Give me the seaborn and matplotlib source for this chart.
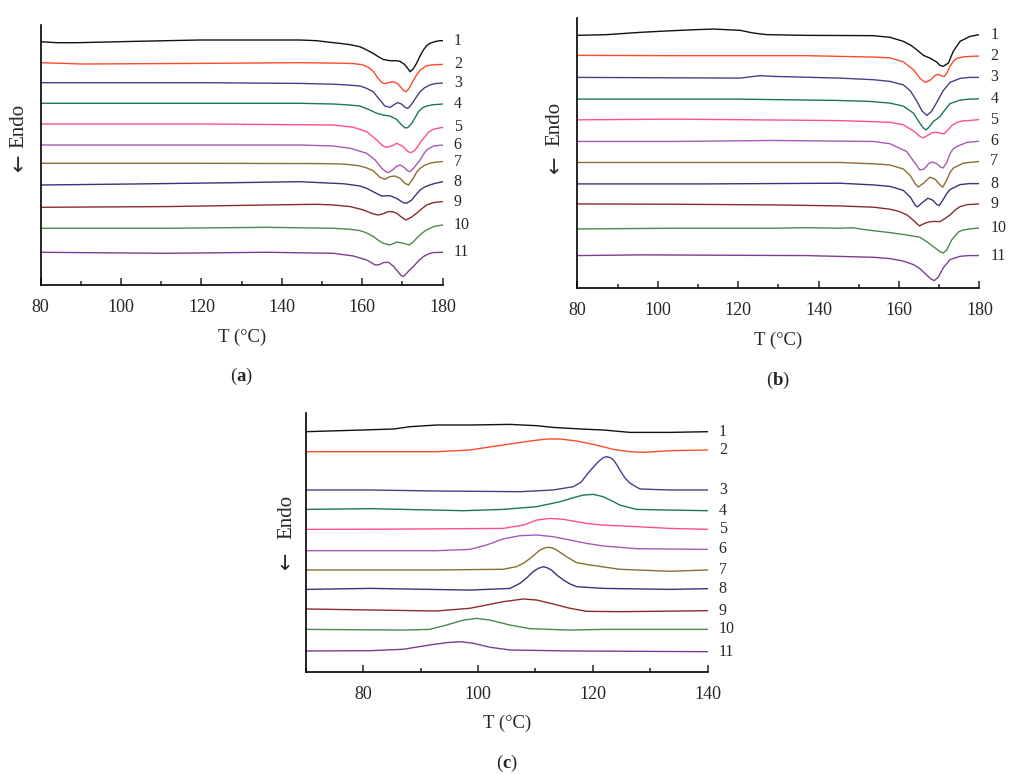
import numpy as np
import pandas as pd
import matplotlib
matplotlib.use("Agg")
import matplotlib.pyplot as plt
import seaborn as sns

# ---------------------------------------------------------
# DATA  (heat flow, arbitrary units,
#        relative to each curve's own baseline)
# ---------------------------------------------------------

curve_names = ["1", "2", "3", "4", "5", "6", "7", "8", "9", "10", "11"]
curve_colors = ["#111111", "#ff4a2a", "#46408c", "#1c7563", "#ff4f8f", "#a45ab4",
                "#8c6d2e", "#3e3278", "#8a2d2a", "#4a8a4a", "#7b3f8f"]

# panel (a): melting, first heating
a_base = [243.3, 222.3, 202.3, 181.7, 161.0, 140.0, 121.7, 100.0, 77.7, 56.7, 32.7]
a_temp = [
    [80, 84, 89, 103, 119.5, 144.5, 148.7, 152.8, 154.5, 157, 159.4, 161, 162.7, 164, 165.2, 166.9, 168.5,
     169.4, 170.3, 171, 171.9, 172.7, 173.5, 174.4, 175.2, 176, 176.8, 178, 179.3, 180],
    [80, 90.6, 119.6, 144.5, 155, 158, 160, 161.5, 162.8, 163.8, 164.8, 165.5, 166.5, 167.6, 168.6, 169.5,
     170.3, 170.9, 171.6, 172.5, 173.5, 174.5, 176, 178, 180],
    [80, 119.6, 144.5, 152.8, 157, 159.4, 161, 162.7, 164.4, 165.6, 166.9, 168.1, 168.8, 169.6, 170.6, 171.3,
     172, 172.7, 173.5, 174.4, 175.5, 176.8, 178, 180],
    [80, 119.6, 144.5, 152.8, 156, 159.4, 161.9, 163.6, 165.2, 166.9, 168.5, 169.8, 170.6, 171.3, 172.3,
     173.2, 174, 175, 176, 177.5, 180],
    [80, 119.6, 152.8, 157.8, 161.1, 163.6, 165.0, 165.9, 167.3, 168.6, 170.2, 171.2, 171.9, 172.7, 173.5,
     174.5, 175.6, 176.5, 177.7, 180],
    [80, 111.3, 144.5, 152.8, 157, 161.1, 163.2, 164.8, 165.8, 166.5, 167.5, 168.5, 169.4, 170.3, 171.2,
     171.9, 172.8, 173.6, 174.4, 175.2, 176, 177.7, 180],
    [80, 120, 150, 154.5, 157.5, 159.4, 161, 162.7, 164.4, 165.6, 166.9, 168.1, 169.4, 170.6, 171.5, 172.7,
     173.5, 174.4, 175.5, 176.8, 178, 180],
    [80, 103, 128, 144.5, 152.8, 155.5, 159.4, 161.2, 162.7, 164.8, 166.9, 168.5, 170.2, 171, 172.3, 173.3,
     174.4, 175.5, 176.8, 178, 180],
    [80, 111.3, 136.2, 148.7, 152.8, 157, 160.3, 162.8, 164, 165.2, 166.5, 167.6, 168.6, 169.8, 170.9, 172.2,
     173.5, 174.8, 176, 177.7, 180],
    [80, 111.3, 136.2, 152.8, 157, 159.4, 161, 162.8, 164, 165.2, 166.9, 168.6, 170.2, 171.7, 172.6, 173.5,
     174.8, 176, 177.7, 180],
    [80, 111.3, 136.2, 152.8, 157.8, 161.1, 163.2, 164.2, 165.2, 166.5, 167.7, 168.8, 169.6, 170.2, 170.8,
     171.7, 172.7, 174, 175.2, 176.5, 177.7, 180],
]
a_heat = [
    [0, -1, -1, 0.3, 1.7, 1.7, 1, -1, -1.7, -3, -5, -8, -11.7, -15, -17.7, -19, -19, -19.7, -22, -25, -30,
     -27, -21.7, -14, -8.3, -4, -1.7, 0, 1, 1],
    [0, -1.3, -0.7, 0, -0.5, -1, -2, -4.5, -9, -15, -19.5, -21, -20, -19, -20.5, -24, -28, -29, -26, -19,
     -12.3, -7, -3, -2, -1.7],
    [0, 0, -0.7, -1.5, -2.5, -3.3, -5.5, -9, -17.3, -23.3, -24.7, -21.5, -20, -21, -24.5, -25.7, -23, -19,
     -14, -9, -5, -2.3, -1, -0.3],
    [0, 0, 0, -0.7, -1.5, -2.7, -6.7, -10, -11.7, -12.7, -16, -21.7, -24.5, -24.5, -20, -14, -8.3, -4.5,
     -2.7, -1.5, -0.7],
    [0, 0, -1, -3.3, -7.7, -16, -21.5, -23.3, -22, -19.3, -22.7, -27, -28.7, -27.5, -24.3, -18, -12.7, -8,
     -5.3, -3.3],
    [0, 0, 0, -1, -3.3, -8.3, -15, -23, -26.5, -27.7, -25, -21.5, -20, -22, -25.5, -26.7, -23, -19, -15,
     -9.5, -5, -1, 0],
    [0, 0, -0.3, -0.7, -1.5, -2.7, -4.5, -7.3, -14, -16, -13.3, -12.7, -15, -20, -21.7, -15, -9, -5, -2, 0,
     1, 1.7],
    [0, 1, 2.3, 3.3, 1.7, 1.2, -1, -3.5, -6.7, -11, -10.7, -13.3, -17.7, -18.3, -15, -10, -5, -2, 0, 1.5,
     3.3],
    [0, 0.7, 2.3, 3, 2.3, 0.7, -2.7, -6.7, -7.7, -6.5, -4.3, -4.5, -6, -10, -12.7, -10, -6, -1.5, 2.3, 4.7,
     5.7],
    [0, 0, 1, 0, -1, -2.3, -4.5, -8.3, -12, -15, -16.7, -13.7, -15, -16.7, -14, -10, -5, -1.7, 1.7, 3.3],
    [0, -1, 0, -1, -3.7, -7.7, -12.7, -12.5, -10.3, -10, -13.7, -19, -23, -24.3, -22, -18, -14.3, -8.5,
     -4.3, -1.5, -0.3, 0],
]

# panel (b): melting, second heating
b_base = [252.7, 232.7, 210.7, 189.0, 168.3, 146.7, 125.7, 104.3, 84.3, 59.3, 32.7]
b_temp = [
    [80, 87.3, 95.6, 103.9, 109.7, 113.8, 120.5, 123.8, 127.1, 137, 153.6, 157.8, 161.1, 163, 164.4, 166.1,
     167.7, 169.4, 170.2, 171, 172.3, 173.5, 175.2, 177.7, 180],
    [80, 104, 137, 153.6, 157.8, 161.1, 163.6, 165.2, 166.5, 167.7, 169, 169.8, 170.6, 171.3, 172, 172.7,
     173.5, 174.4, 176, 177.7, 180],
    [80, 120.5, 122.5, 125.4, 128.8, 145.3, 153.6, 157.8, 161.1, 162.8, 164.4, 165.7, 166.9, 168.1, 169.4,
     171, 172.7, 175.2, 177.5, 180],
    [80, 119.6, 144.5, 152.8, 157.8, 161.1, 163.6, 165.2, 166.1, 166.8, 167.7, 168.6, 169.4, 170.2, 171,
     172.7, 175.2, 177.5, 180],
    [80, 103.9, 144.5, 152.8, 157.8, 161.1, 163.6, 165.2, 166, 167, 168.2, 169.3, 170.3, 171.2, 172.2, 173.2,
     174.4, 176, 178, 180],
    [80, 103.9, 128.8, 153.6, 157.8, 161.9, 164, 165.2, 166.3, 167.3, 168.2, 169.3, 170.3, 171, 171.9, 172.7,
     173.6, 174.4, 176.9, 180],
    [80, 103.9, 145.3, 153.6, 157.8, 161.1, 162.8, 164, 164.8, 166.1, 167.7, 169, 170.2, 170.9, 171.9, 172.7,
     173.5, 176, 178, 180],
    [80, 112.2, 145.3, 153.6, 157.8, 161.1, 162.8, 164, 164.6, 165.7, 167.2, 168.3, 169.4, 170, 171, 172,
     172.7, 175.2, 177.5, 180],
    [80, 104, 129, 145.5, 153.8, 157.8, 160, 162, 163.5, 165.1, 166.3, 167.7, 169, 170.2, 171.5, 172.7, 174,
     175.2, 177, 180],
    [80, 103.9, 128.7, 137, 145.3, 148.6, 150.3, 153.6, 157.8, 161.9, 165.2, 166.9, 168.6, 170.2, 171, 171.9,
     173.1, 174.8, 176, 177.7, 180],
    [80, 95.6, 137, 153.6, 157.8, 161.1, 163.6, 165.2, 166.9, 168, 168.8, 169.8, 171, 172.7, 175.2, 177.5,
     180],
]
b_heat = [
    [0, 0.7, 3, 4.7, 5.7, 6.3, 5, 2.3, 0.7, 0, -0.3, -2, -6, -10, -14.3, -20, -22.7, -26.7, -30, -31, -27.7,
     -16, -6, -1, 0.7],
    [0, -0.3, -0.3, -1.7, -2.5, -6.5, -14.3, -22.7, -27, -25, -20, -19, -20.5, -21, -17, -11, -6, -3, -1.5,
     -1, -0.7],
    [0, -0.7, 0.3, 1.7, 1, -0.7, -2.3, -4, -7.5, -13.3, -23.3, -33.3, -38, -34, -25, -13.3, -5, -1, 0, 0],
    [0, 0, -1.3, -2.3, -4, -7, -14, -24, -29, -30.7, -27, -22, -20, -17.5, -13, -4.5, -1, 0, 0.3],
    [0, 0.7, -0.7, -1.7, -2.5, -5, -11, -16.5, -18, -16, -13, -12.5, -13.3, -14, -10, -5.5, -2.5, -1, -0.5,
     0.3],
    [0, 0, 1, 0, -2.3, -10, -21.7, -28.5, -27.5, -22.5, -20.5, -22, -25.5, -26.5, -21, -12, -7, -5, -1, 0.3],
    [0, 0, 0, -1.3, -2.5, -6.5, -13, -21, -24.5, -20.7, -14.7, -16.7, -22.3, -24.7, -17.3, -10, -5.7, -0.7,
     0.3, 1],
    [0, 0, 0.7, -1, -2.5, -6.5, -13, -21, -23, -19, -14.3, -16, -20.5, -21.7, -15.7, -9, -5.7, -0.7, 0.3,
     0.3],
    [0, -0.3, -1, -2, -3.3, -5.3, -7.5, -11, -16, -22, -19.5, -17.7, -17.5, -17.7, -14.5, -11, -6, -2.7,
     -0.7, 0],
    [0, 0.7, 0.7, 1.3, 0.7, 1.2, 0, -1.7, -3.7, -6, -8.3, -12.7, -17.7, -22.7, -24, -21, -11, -3, -1, 0,
     1],
    [0, 0.7, 0, -1.7, -3, -5.5, -9, -13, -19.5, -23.5, -25, -21.5, -12.3, -4, -0.7, 0, 0],
]

# panel (c): crystallisation, cooling
c_base = [240.0, 220.0, 181.7, 162.3, 142.3, 121.0, 101.7, 82.3, 62.7, 42.3, 20.7]
c_temp = [
    [70, 80, 85.3, 88.2, 92.8, 98.6, 105.6, 110.2, 113.1, 117.8, 121.8, 126.5, 133.4, 140],
    [70, 92.8, 98.6, 104.4, 109.1, 112, 114.3, 117.2, 120.1, 123.6, 126.5, 128.8, 133.4, 140],
    [70, 81.2, 92.8, 107.3, 113.1, 116.6, 118, 118.9, 119.8, 120.7, 121.3, 121.8, 122.4, 123, 123.6, 124.2,
     124.7, 125.6, 126.5, 128.2, 133.4, 140],
    [70, 81.2, 97.5, 104.4, 110.2, 114.3, 116.5, 118.3, 120.1, 121.8, 123.5, 124.7, 127.6, 133.4, 140],
    [70, 87, 104.4, 107.9, 110.2, 112.5, 114.9, 118.9, 121.8, 127.6, 133.4, 140],
    [70, 92.8, 98.6, 101.5, 104.4, 107.3, 110.2, 113.1, 116, 118.9, 121.8, 127.6, 140],
    [70, 92.8, 104.4, 106.7, 108, 109.1, 110, 110.8, 111.6, 112.3, 113, 113.7, 114.6, 115.4, 117.2, 119.5,
     124.7, 133.4, 140],
    [70, 81.2, 98.6, 105.6, 107.3, 108.5, 109.6, 110.5, 111.4, 112.1, 112.8, 113.8, 114.9, 116, 117.2, 121.8,
     133.4, 140],
    [70, 81.2, 92.8, 98.6, 104.4, 107.9, 110.2, 113.1, 116, 118.9, 124.7, 140],
    [70, 87, 91.6, 94.5, 97.5, 99.8, 102.1, 105.6, 109.1, 116, 121.8, 140],
    [70, 81.2, 87, 91.6, 94.5, 96.9, 99.2, 102.1, 105.6, 116, 140],
]
c_heat = [
    [0, 1.7, 2.7, 5, 6.7, 6.7, 7.3, 6, 4.3, 2.7, 1.7, -0.7, -0.7, 0],
    [0, 0, 1.7, 6.7, 10.7, 12.7, 12.7, 10.7, 7.3, 2.3, 0, -0.7, 1, 1.7],
    [0, 0, -1, -1.7, 0, 3.3, 8, 15, 21, 26.7, 30, 32.3, 33.3, 32.5, 30, 25, 20, 12, 6.7, 1, 0, 0],
    [0, 0.7, -1.3, 0, 2.7, 7.7, 11.5, 14.3, 15, 12.7, 8, 4.3, 0, -0.7, -1.3],
    [0, 0.3, 1, 4.3, 9.3, 11, 10, 6, 4.3, 2.7, 1, 0],
    [0, 0, 1.3, 5.7, 11.7, 15, 15.7, 14, 10.7, 7.3, 4.7, 2, 1.3],
    [0, 0, 0.7, 3.3, 7, 11.7, 16, 20, 22, 22.7, 22, 20, 16.5, 13.3, 7.3, 5, 0.7, -1.3, 0],
    [0, 1, -0.7, 1, 6, 11.5, 17.7, 21, 22.7, 21.5, 19.3, 14, 9.3, 5.5, 2.7, 1, 0, 0.7],
    [0, -1, -2, 0.7, 7.3, 10, 9, 5, 0.7, -2.3, -2.7, -1.7],
    [0, -0.7, 0, 4.3, 9.3, 11, 9.3, 4.3, 0.7, -0.7, 0, 0],
    [0, 0.3, 1.7, 6, 8.3, 9.3, 7.7, 3.7, 1, 0, -0.7],
]


# ---------------------------------------------------------
# STYLE
# ---------------------------------------------------------

sns.set_theme(style="white")
plt.rcParams["font.family"] = ["Liberation Serif", "DejaVu Serif"]
plt.rcParams["mathtext.fontset"] = "custom"
plt.rcParams["mathtext.rm"] = "Liberation Serif"
plt.rcParams["mathtext.bf"] = "Liberation Serif:bold"

fig = plt.figure(figsize=(10.24, 7.74), dpi=100)
fig.patch.set_facecolor("white")


def draw_panel(ax, temps, heats, bases, xlim, ytop, major, minor, lab_x, endo_y, arrow_y, letter):
    for i in range(len(curve_names)):
        df = pd.DataFrame({"T": temps[i], "H": np.array(heats[i]) + bases[i]})
        sns.lineplot(data=df, x="T", y="H", ax=ax, color=curve_colors[i],
                     lw=1.0, sort=False, estimator=None)
        ax.annotate(curve_names[i], xy=(df["T"].iloc[-1], df["H"].iloc[-1]),
                    xytext=(8, 0), textcoords="offset points",
                    ha="left", va="center", fontsize=11.5, annotation_clip=False)

    ax.set_xlim(*xlim)
    ax.set_ylim(0, ytop)
    ax.set_facecolor("white")
    for s in ["top", "right"]:
        ax.spines[s].set_visible(False)
    for s in ["left", "bottom"]:
        ax.spines[s].set_color("black")
        ax.spines[s].set_linewidth(1.2)

    ax.set_xticks(major)
    ax.set_xticks(minor, minor=True)
    ax.set_yticks([])
    ax.tick_params(axis="x", which="major", direction="in", length=5, width=1.1,
                   labelsize=13, pad=10, bottom=True)
    ax.tick_params(axis="x", which="minor", direction="in", length=3, width=1.1, bottom=True)

    ax.set_xlabel("T (°C)", fontsize=13.5, labelpad=9)
    ax.set_ylabel("")

    # y label: "Endo" with a downward arrow under it
    ax.text(lab_x, endo_y, "Endo", transform=ax.transAxes, rotation=90,
            ha="center", va="center", fontsize=15)
    ax.text(lab_x, arrow_y, "←", transform=ax.transAxes, rotation=90,
            ha="center", va="center", fontsize=15, family="DejaVu Sans")

    ax.annotate(r"($\mathbf{" + letter + r"}$)", xy=(0.5, 0), xycoords="axes fraction",
                xytext=(0, -66), textcoords="offset points",
                ha="center", va="center", fontsize=13.5)


ax_a = fig.add_axes([0.0397, 0.6318, 0.3926, 0.3359])
draw_panel(ax_a, a_temp, a_heat, a_base, (80, 180), 260,
           [80, 100, 120, 140, 160, 180], [90, 110, 130, 150, 170],
           -0.054, 0.612, 0.471, "a")

ax_b = fig.add_axes([0.5638, 0.6275, 0.3926, 0.3492])
draw_panel(ax_b, b_temp, b_heat, b_base, (80, 180), 270,
           [80, 100, 120, 140, 160, 180], [90, 110, 130, 150, 170],
           -0.055, 0.608, 0.46, "b")

ax_c = fig.add_axes([0.2985, 0.1322, 0.3926, 0.3346])
draw_panel(ax_c, c_temp, c_heat, c_base, (70, 140), 259,
           [80, 100, 120, 140], [70, 90, 110, 130],
           -0.047, 0.597, 0.431, "c")

fig.savefig("out.png", dpi=100, facecolor="white")
